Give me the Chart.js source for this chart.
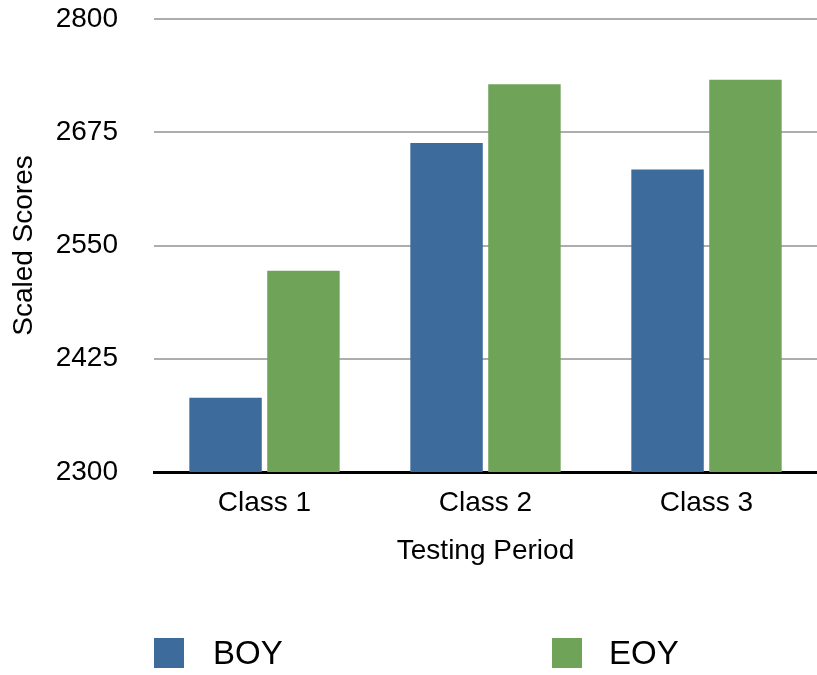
<!DOCTYPE html>
<html>
<head>
<meta charset="utf-8">
<script src="https://cdn.jsdelivr.net/npm/chart.js@4/dist/chart.umd.min.js"></script>
<style>
    body { margin: 0; background: #fff; font-family: "Liberation Sans", Arial, sans-serif; }
    #wrap { position: relative; width: 817px; height: 675px; }
    #legend { position: absolute; left: 0; top: 636px; width: 817px; height: 34px; }
    .item { position: absolute; top: 0; height: 34px; line-height: 34px; font-size: 33px; color: #000; }
    .box { position: absolute; top: 2px; width: 30px; height: 30px; }
    .label { position: absolute; top: 0; white-space: nowrap; }
</style>
</head>
<body>
<div id="wrap">
    <canvas id="chart" width="817" height="675"></canvas>
    <div id="legend"></div>
</div>
<script>
const categories = ['Class 1', 'Class 2', 'Class 3'];
const seriesNames = ['BOY', 'EOY'];
const boyScores = [2382, 2663, 2634];
const eoyScores = [2522, 2728, 2733];
const yTicks = [2300, 2425, 2550, 2675, 2800];
const colors = ['#3d6b9c', '#6fa358'];

let ctx = document.getElementById('chart').getContext('2d');
let font = { family: '"Liberation Sans", Arial, sans-serif', size: 28 };

let chart = new Chart(ctx, {
    type: 'bar',
    data: {
        labels: categories,
        datasets: [{
            label: seriesNames[0],
            backgroundColor: colors[0],
            data: boyScores
        }, {
            label: seriesNames[1],
            backgroundColor: colors[1],
            data: eoyScores
        }]
    },
    options: {
        responsive: false,
        animation: false,
        // plot runs a little past the right edge, as in the original
        layout: { padding: { top: 0, right: -3, bottom: 103, left: 0 } },
        categoryPercentage: 0.705,
        barPercentage: 0.93,
        plugins: {
            legend: { display: false },
            tooltip: { enabled: false }
        },
        scales: {
            x: {
                afterFit: (axis) => { axis.height = 100; },
                grid: { display: false, drawTicks: false, tickLength: 0 },
                border: { color: '#000', width: 3 },
                ticks: { color: '#000', font: font, padding: 14 },
                title: {
                    display: true, text: 'Testing Period', color: '#000', font: font,
                    padding: { top: 14, bottom: 4 }
                }
            },
            y: {
                min: yTicks[0],
                max: yTicks[yTicks.length - 1],
                afterBuildTicks: (axis) => {
                    axis.ticks = yTicks.map((v) => ({ value: v }));
                },
                afterFit: (axis) => {
                    axis.width = 154;
                    axis.paddingTop = 19;
                },
                grid: { color: '#adadad', lineWidth: 2, drawTicks: false, tickLength: 0 },
                border: { display: false },
                ticks: {
                    color: '#000', font: font, padding: 36,
                    callback: (value) => String(value)
                },
                title: {
                    display: true, text: 'Scaled Scores', color: '#000', font: font,
                    padding: { top: 7, bottom: 14 }
                }
            }
        }
    }
});

// legend in html, placed like the original
let legend = document.getElementById('legend');
let positions = [[154, 213], [552, 609]];
chart.data.datasets.forEach((ds, i) => {
    let item = document.createElement('div');
    item.className = 'item';
    item.innerHTML = '<div class="box" style="left:' + positions[i][0] + 'px;background:' + ds.backgroundColor + '"></div>' +
        '<div class="label" style="left:' + positions[i][1] + 'px">' + ds.label + '</div>';
    legend.appendChild(item);
});
</script>
</body>
</html>
